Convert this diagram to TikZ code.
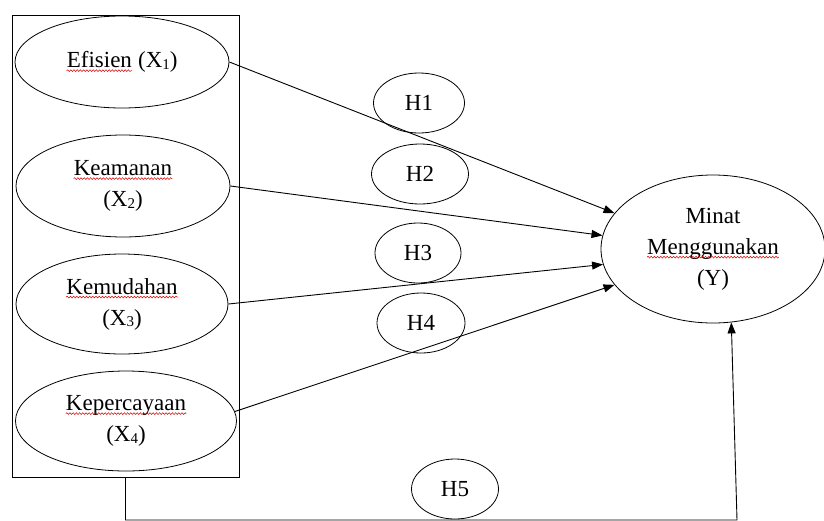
\documentclass[tikz,border=0pt]{standalone}
\usepackage{fontspec}
\setmainfont{Liberation Serif}
\usetikzlibrary{shapes.geometric,arrows.meta,decorations.pathmorphing}
\newcommand{\wavy}[1]{\tikz[baseline=(w.base),x=1pt,y=1pt]{%
    \node[rectangle,draw=none,inner sep=0pt,minimum width=0pt,minimum height=0pt] (w) {#1};
    \draw[red!85!black,line width=0.5pt,decorate,decoration={snake,amplitude=0.9pt,segment length=3.2pt}]
      ([yshift=-3pt]w.base west) -- ([yshift=-3pt]w.base east);}}
\newcommand{\xsub}[1]{\raisebox{-1.5pt}{\fontsize{15}{15}\selectfont #1}}
\begin{document}
\begin{tikzpicture}[x=1pt,y=-1pt,
    var/.style={draw,ellipse,line width=0.8pt,inner sep=0pt,align=center,font=\fontsize{23}{31}\selectfont},
    hyp/.style={draw,ellipse,line width=0.8pt,minimum height=60,inner sep=0pt,font=\fontsize{23}{26}\selectfont},
    link/.style={line width=0.9pt,-{Triangle[length=11pt,width=8pt]}}]
\useasboundingbox (0,0) rectangle (824,520);
\node[draw,line width=1pt,minimum width=227,minimum height=462,inner sep=0pt] (box) at (125.5,246) {};
% variabel bebas
\node[var,minimum width=214,minimum height=92] (X1) at (122,62) {\wavy{Efisien} (X\xsub{1})};
\node[var,minimum width=214,minimum height=102] (X2) at (123,186) {\wavy{Keamanan}\\(X\xsub{2})};
\node[var,minimum width=212,minimum height=100] (X3) at (122,304) {\wavy{Kemudahan}\\(X\xsub{3})};
\node[var,minimum width=221,minimum height=100] (X4) at (126,421) {\wavy{Kepercayaan}\\(X\xsub{4})};
% variabel terikat
\node[var,minimum width=224,minimum height=148] (Y) at (713,249) {Minat\\\wavy{Menggunakan}\\(Y)};
% hipotesis
\node[hyp,minimum width=91] (H1) at (419,103) {H1};
\node[hyp,minimum width=97] (H2) at (420,174) {H2};
\node[hyp,minimum width=86] (H3) at (418,253) {H3};
\node[hyp,minimum width=88] (H4) at (421,323) {H4};
\node[hyp,minimum width=87] (H5) at (455,489) {H5};
\draw[link] (X1.east) -- (Y.160);
\draw[link] (X2.east) -- (Y.173);
\draw[link] (X3.east) -- (Y.188);
\draw[link] (X4.5) -- (Y.200);
\coordinate (turn) at (737,520);
\draw[link] (box.south) |- (turn) -- (Y.284);
\end{tikzpicture}
\end{document}
